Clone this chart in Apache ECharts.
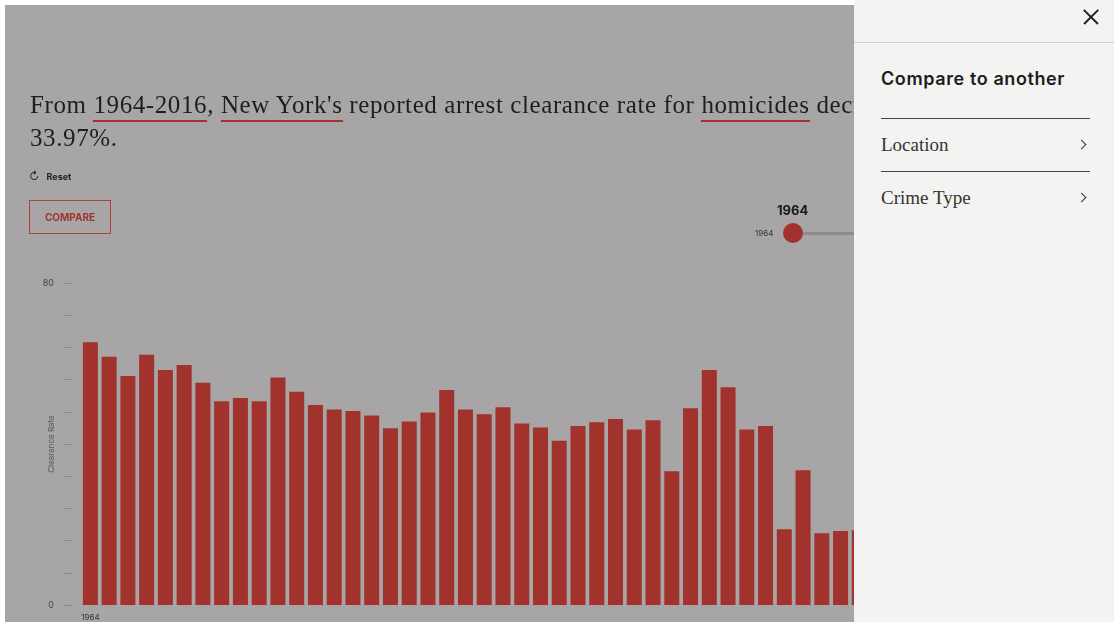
<!DOCTYPE html>
<html>
<head>
<meta charset="utf-8">
<title>Clearance rate</title>
<script src="https://cdn.jsdelivr.net/npm/echarts@6/dist/echarts.min.js"></script>
<style>
  html, body { margin: 0; padding: 0; background: #fff; width: 1114px; height: 622px; overflow: hidden; }
  #page { position: absolute; left: 5px; top: 5px; width: 1109px; height: 617px; background: #a7a5a6; }
  #chart { position: absolute; left: 0; top: 0; width: 1114px; height: 622px; }
  .headline {
    position: absolute; left: 30px; top: 88px; white-space: nowrap;
    font-family: "Liberation Serif", "DejaVu Serif", serif; font-size: 25px; letter-spacing: 0.6px;
    line-height: 33px; color: #1f1d1e;
  }
  .headline u { text-decoration: none; border-bottom: 2px solid #a1322c; padding-bottom: 2px; }
  .reset { position: absolute; left: 29px; top: 169px; font: bold 9px "Inter", sans-serif; color: #222; }
  .reset span { font-size: 11px; margin-right: 7px; font-weight: normal; }
  .compare {
    position: absolute; left: 29px; top: 200px; width: 80px; height: 32px; border: 1px solid #b0403a;
    font: bold 10px "Inter", sans-serif; color: #a1322c; text-align: center; line-height: 32px;
  }
  .slider-year { position: absolute; left: 777px; top: 202px; font: bold 13px "Inter", sans-serif; color: #1a1a1a; }
  .slider-min { position: absolute; left: 755px; top: 228px; font: 8px "Inter", sans-serif; color: #333; }
  .track { position: absolute; left: 800px; top: 232px; width: 60px; height: 3px; background: #8d8b8b; }
  .thumb { position: absolute; left: 783px; top: 223px; width: 20px; height: 20px; border-radius: 50%; background: #a1322c; }
  #panel { position: absolute; left: 854px; top: 0; width: 260px; height: 622px; background: #f3f3f2; }
  #panel .bar { position: absolute; left: 0; top: 42px; width: 260px; height: 1px; background: #cfcfcd; }
  #panel .close { position: absolute; left: 229px; top: 9px; width: 16px; height: 16px; }
  #panel .close::before, #panel .close::after {
    content: ""; position: absolute; left: -2px; top: 7px; width: 20px; height: 1.6px; background: #222;
  }
  #panel .close::before { transform: rotate(45deg); }
  #panel .close::after { transform: rotate(-45deg); }
  #panel h3 { position: absolute; left: 27px; top: 68px; margin: 0; font: 600 18px "Inter", sans-serif;
    letter-spacing: 0.6px; color: #1c1c1c; }
  #panel .row { position: absolute; left: 27px; width: 209px; height: 52px; border-top: 1px solid #444;
    font-family: "Liberation Serif", serif; font-size: 19px; color: #333; line-height: 52px; }
  #panel .row i { position: absolute; right: 5px; top: 22px; width: 6px; height: 6px;
    border-top: 1.3px solid #333; border-right: 1.3px solid #333; transform: rotate(45deg); }
</style>
</head>
<body>
<div id="page"></div>
<div id="chart"></div>
<div class="headline">From <u>1964-2016</u>, <u>New York's</u> reported arrest clearance rate for <u>homicides</u> decreased by<br>33.97%.</div>
<div class="reset"><span>&#8635;</span>Reset</div>
<div class="compare">COMPARE</div>
<div class="slider-year">1964</div>
<div class="slider-min">1964</div>
<div class="track"></div>
<div class="thumb"></div>
<div id="panel">
  <div class="close"></div>
  <div class="bar"></div>
  <h3>Compare to another</h3>
  <div class="row" style="top:118px">Location<i></i></div>
  <div class="row" style="top:171px">Crime Type<i></i></div>
</div>
<script>
// years 1964-2016; the bars after 2005 sit under the side panel
const years = [
  '1964', '1965', '1966', '1967', '1968', '1969', '1970', '1971', '1972', '1973',
  '1974', '1975', '1976', '1977', '1978', '1979', '1980', '1981', '1982', '1983',
  '1984', '1985', '1986', '1987', '1988', '1989', '1990', '1991', '1992', '1993',
  '1994', '1995', '1996', '1997', '1998', '1999', '2000', '2001', '2002', '2003',
  '2004', '2005', '2006', '2007', '2008', '2009', '2010', '2011', '2012', '2013',
  '2014', '2015', '2016'
];
const clearanceRate = [
  65.3, 61.7, 56.9, 62.2, 58.4, 59.6, 55.2, 50.6, 51.4, 50.6,
  56.5, 53.0, 49.7, 48.6, 48.2, 47.1, 43.9, 45.6, 47.8, 53.4,
  48.6, 47.4, 49.1, 45.1, 44.1, 40.8, 44.5, 45.4, 46.2, 43.6,
  45.9, 33.2, 48.9, 58.4, 54.1, 43.6, 44.5, 18.8, 33.5, 17.8,
  18.4, 18.6, null, null, null, null, null, null, null, null,
  null, null, null
];
const yTickLabels = [0, 80];
const xTickLabels = ['1964', '2016'];

const chart = echarts.init(document.getElementById('chart'));

chart.setOption({
  animation: false,
  backgroundColor: 'transparent',
  grid: { left: 81, right: 39, top: 283, bottom: 17 },
  xAxis: {
    type: 'category',
    data: years,
    axisLine: { show: false },
    axisTick: { show: false },
    axisLabel: {
      interval: 0,
      margin: 9,
      fontSize: 8,
      fontFamily: 'Inter, sans-serif',
      color: '#333',
      formatter: (v) => (xTickLabels.includes(v) ? v : '')
    }
  },
  yAxis: {
    type: 'value',
    min: 0,
    max: 80,
    interval: 8,
    offset: 8,
    name: 'Clearance Rate',
    nameLocation: 'middle',
    nameGap: 17,
    nameMoveOverlap: false,
    nameTextStyle: { fontSize: 8, color: '#555', fontFamily: 'Inter, sans-serif' },
    axisLine: { show: false },
    axisTick: { show: true, length: 10, lineStyle: { color: '#8b898a' } },
    splitLine: { show: false },
    axisLabel: {
      margin: 19,
      fontSize: 9,
      fontFamily: 'Inter, sans-serif',
      color: '#444',
      formatter: (v) => (yTickLabels.includes(v) ? String(v) : '')
    }
  },
  series: [
    {
      type: 'bar',
      data: clearanceRate,
      barCategoryGap: '20%',
      itemStyle: { color: '#a1322c' }
    }
  ]
});
</script>
</body>
</html>
